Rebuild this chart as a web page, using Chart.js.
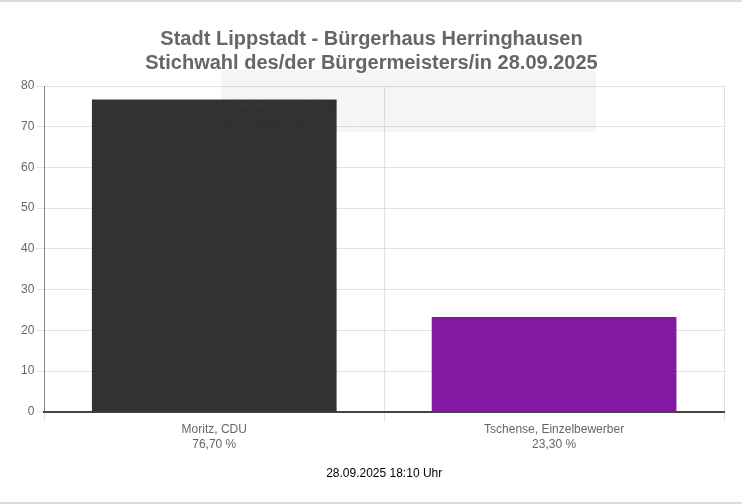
<!DOCTYPE html>
<html>
<head>
<meta charset="utf-8">
<script src="https://cdn.jsdelivr.net/npm/chart.js@4"></script>
<style>
  body { margin: 0; background: #fff; }
  #wrap { width: 742px; height: 500px; border-top: 2px solid #ddd; border-bottom: 2px solid #ddd; position: relative; }
</style>
</head>
<body>
<div id="wrap"><canvas id="chart"></canvas></div>
<script>
const candidates = ['Moritz, CDU', 'Tschense, Einzelbewerber'];
const percents = [76.70, 23.30];
const percentLabels = ['76,70 %', '23,30 %'];
const barColors = ['#333333', '#8219a2'];
const titleLines = ['Stadt Lippstadt - Bürgerhaus Herringhausen', 'Stichwahl des/der Bürgermeisters/in 28.09.2025'];
const footerText = '28.09.2025 18:10 Uhr';
const ghostTip = ['Uwe Moritz, CDU', '76,70 % (79 Stimmen)'];

// fading tooltip left over in the screenshot
const ghostTooltip = {
  id: 'ghostTooltip',
  afterDraw(chart) {
    const ctx = chart.ctx;
    ctx.save();
    ctx.fillStyle = 'rgba(0,0,0,0.04)';
    ctx.beginPath();
    ctx.roundRect(221, 68, 375, 62, 6);
    ctx.fill();
    ctx.fillStyle = 'rgba(255,255,255,0.03)';
    ctx.font = '13px "Liberation Sans", Arial, sans-serif';
    ctx.textBaseline = 'top';
    ctx.fillText(ghostTip[0], 227, 96);
    ctx.fillText(ghostTip[1], 227, 110);
    ctx.restore();
  }
};

new Chart(document.getElementById('chart'), {
  type: 'bar',
  data: {
    labels: candidates.map((c, i) => [c, percentLabels[i]]),
    datasets: [{
      data: percents,
      backgroundColor: barColors
    }]
  },
  options: {
    responsive: true,
    maintainAspectRatio: false,
    animation: false,
    layout: { padding: { left: 19, right: 18, top: 0, bottom: 21 } },
    plugins: {
      legend: { display: false },
      tooltip: { enabled: false },
      title: {
        display: true,
        text: titleLines,
        color: '#666',
        font: { family: '"Liberation Sans", Arial, sans-serif', size: 20, weight: 'bold', lineHeight: 1.2 },
        padding: { top: 25, bottom: 11 }
      }
    },
    scales: {
      y: {
        min: 0,
        max: 80,
        ticks: { stepSize: 10, color: '#666', font: { family: '"Liberation Sans", Arial, sans-serif', size: 12 }, padding: 2 },
        grid: { color: '#e2e2e2', tickLength: 8 },
        border: { color: '#888' }
      },
      x: {
        ticks: { color: '#666', font: { family: '"Liberation Sans", Arial, sans-serif', size: 12 }, padding: 1 },
        grid: { color: '#e2e2e2', offset: true, tickLength: 10 },
        border: { color: '#444', width: 2 },
        title: {
          display: true,
          text: footerText,
          color: '#000',
          font: { family: '"Liberation Sans", Arial, sans-serif', size: 12 },
          padding: { top: 14, bottom: 0 }
        }
      }
    }
  },
  plugins: [ghostTooltip]
});
</script>
</body>
</html>
